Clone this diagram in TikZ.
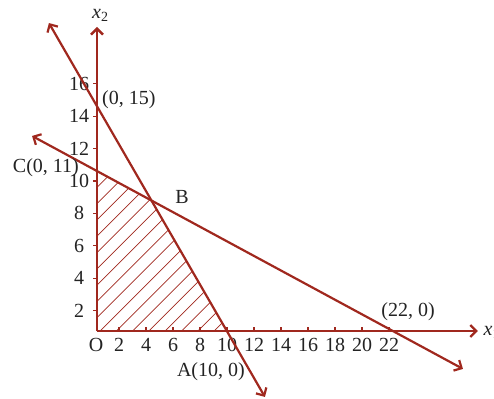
\documentclass[tikz,border=0pt]{standalone}
\usepackage{fontspec}
\setmainfont{Liberation Serif}
\usepackage{xcolor}
\usepackage{tikz}
\usetikzlibrary{arrows.meta, intersections}

\definecolor{linered}{RGB}{160,40,30}
\definecolor{labelgray}{RGB}{35,35,35}

\begin{document}
\begin{tikzpicture}[
    x=13.5pt, y=16.2pt,
    axis/.style={line width=2.4pt, linered, -{Straight Barb[length=6pt, width=12pt]}},
    constr/.style={line width=2.2pt, linered, {Straight Barb[length=6pt, width=12pt]}-{Straight Barb[length=6pt, width=12pt]}},
    hatch/.style={line width=0.7pt, linered},
    tickmark/.style={line width=1.2pt, linered},
    lbl/.style={font=\fontsize{20}{24}\selectfont, text=labelgray, inner sep=0pt},
]
\useasboundingbox (-92pt,-55pt) rectangle (402pt,343pt);

% Axes end points
\coordinate (O) at (0.37,0.74);
\coordinate (xtip) at (28.59,0.74);
\coordinate (ytip) at (0.37,19.51);

% Constraint line end points
\coordinate (l1a) at (-3.19,19.75);
\coordinate (l1b) at (12.81,-3.33);
\coordinate (l2a) at (-4.44,12.78);
\coordinate (l2b) at (27.48,-1.60);

% Corner points of the feasible region
\path[name path=cl1] (l1a) -- (l1b);
\path[name path=cl2] (l2a) -- (l2b);
\path[name path=xax] (O) -- (xtip);
\path[name path=yax] (O) -- (ytip);
\path[name intersections={of=cl1 and cl2, by=B}];
\path[name intersections={of=cl2 and yax, by=C}];
\path[name intersections={of=cl1 and xax, by=A}];

% Hatched feasible region
\begin{scope}
  \clip (O) -- (C) -- (B) -- (A) -- cycle;
  \foreach \s in {-12,...,9}
    \draw[hatch] ([xshift=3pt+\s*16.3pt]O) -- ++(200pt,200pt);
\end{scope}

% Ticks and tick labels
\foreach \k in {2,4,...,22} {
  \draw[tickmark] (\k,0.74) -- ++(0,4pt);
  \node[lbl] (xl\k) at (\k,-0.12) {\k};
}
\foreach \k in {2,4,...,16} {
  \draw[tickmark] (0.37,\k) -- ++(-4pt,0);
  \node[lbl] (yl\k) at (-0.96,\k) {\k};
}

% Constraint lines
\draw[constr] (l1a) -- (l1b);
\draw[constr] (l2a) -- (l2b);

% Axes
\draw[axis] (O) -- (xtip);
\draw[axis] (O) -- (ytip);

% Labels
\node[lbl, anchor=base west] (xone) at (29.0,0.49) {\textit{x}\textsubscript{1}};
\node[lbl, anchor=base west] (xtwo) at (0.0,20.06) {\textit{x}\textsubscript{2}};
\node[lbl] (olbl) at (0.3,-0.12) {O};
\node[lbl, anchor=west] (plbl) at (0.74,15.0) {(0, 15)};
\node[lbl, anchor=east] (clbl) at (-0.96,10.80) {C(0, 11)};
\node[lbl] (blbl) at (6.67,9.01) {B};
\node[lbl] (albl) at (8.81,-1.79) {A(10, 0)};
\node[lbl] (qlbl) at (23.41,1.91) {(22, 0)};

\end{tikzpicture}
\end{document}
